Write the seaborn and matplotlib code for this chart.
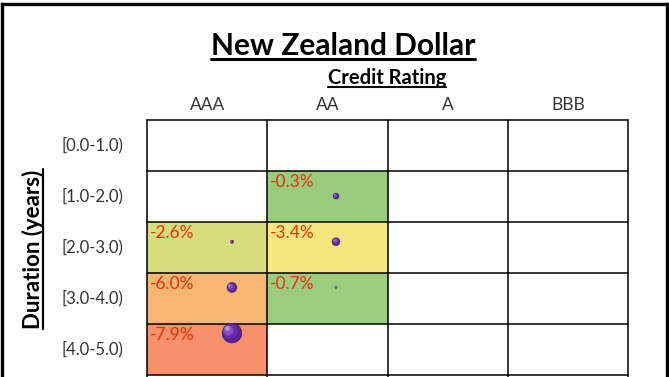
import numpy as np
import pandas as pd
import matplotlib
matplotlib.use('Agg')
import matplotlib.pyplot as plt
import matplotlib.transforms as mtransforms
from matplotlib.colors import LinearSegmentedColormap
from matplotlib.lines import Line2D
import seaborn as sns

# data
ratings = ['AAA', 'AA', 'A', 'BBB']
durations = ['[0.0-1.0)', '[1.0-2.0)', '[2.0-3.0)', '[3.0-4.0)', '[4.0-5.0)']
returns_aaa = [np.nan, np.nan, -2.6, -6.0, -7.9]
returns_aa = [np.nan, -0.3, -3.4, -0.7, np.nan]
returns_a = [np.nan] * 5
returns_bbb = [np.nan] * 5
# bubble size (relative weight of each bucket)
weight_aaa = [np.nan, np.nan, 0.25, 2.5, 10.0]
weight_aa = [np.nan, 0.9, 1.6, 0.1, np.nan]
weight_a = [np.nan] * 5
weight_bbb = [np.nan] * 5

returns = pd.DataFrame({'AAA': returns_aaa, 'AA': returns_aa, 'A': returns_a, 'BBB': returns_bbb},
                       index=durations)
weights = pd.DataFrame({'AAA': weight_aaa, 'AA': weight_aa, 'A': weight_a, 'BBB': weight_bbb},
                       index=durations)

sns.set_style('white')
plt.rcParams['font.family'] = ['Lato', 'DejaVu Sans']

W, H = 669, 377
fig = plt.figure(figsize=(W / 100, H / 100), dpi=100)


def px_rect(l, t, r, b):
    return [l / W, 1 - b / H, (r - l) / W, (b - t) / H]


# excel style red-yellow-green colour scale
cmap = LinearSegmentedColormap.from_list(
    'ryg', [(0.0, '#F78E6C'), (0.56, '#FAE87E'), (0.88, '#9BCD7D'), (1.0, '#98CC7C')])

ax = fig.add_axes(px_rect(147, 120, 628, 377))
sns.heatmap(returns, ax=ax, cmap=cmap, vmin=-8, vmax=0, cbar=False,
            mask=returns.isna(), annot=False)
ax.set_ylim(5.04, 0)
ax.set_xlim(0, 4)

for y in range(6):
    ax.axhline(y, color='black', lw=1.1, clip_on=False)
for x in range(5):
    ax.axvline(x, color='black', lw=1.1, clip_on=False)

# labels in the top-left corner of each cell
for i, row in enumerate(durations):
    for j, col in enumerate(ratings):
        v = returns.loc[row, col]
        if not np.isnan(v):
            ax.text(j + 0.02, i + 0.06, f'{v:.1f}%', color='#E8300E', fontsize=12.5,
                    ha='left', va='top')

ax.xaxis.tick_top()
ax.set_xticks(np.arange(len(ratings)) + 0.5, ratings, fontsize=12.5, color='#333333')
ax.set_yticks(np.arange(len(durations)) + 0.5, durations, rotation=0, fontsize=12,
              color='#333333')
ax.tick_params(axis='x', length=0, pad=5)
ax.tick_params(axis='y', length=0, pad=17)
ax.set_xlabel('')
ax.set_ylabel('')

# bubble overlay (own plot area, like the excel bubble chart)
ax_b = fig.add_axes(px_rect(180, 127.5, 596, 356))
ax_b.set_xlim(-0.5, 3.5)
ax_b.set_ylim(4.5, -0.5)
ax_b.axis('off')
ax_b.patch.set_visible(False)
long = weights.reset_index(names='duration').melt(id_vars='duration', var_name='rating',
                                                   value_name='weight').dropna()
bx = long['rating'].map(ratings.index).to_numpy()
by = long['duration'].map(durations.index).to_numpy()
bs = long['weight'].to_numpy() * 20
ax_b.scatter(bx, by, s=bs, color='#5A2294', edgecolor='#3E1670', linewidth=0.4, zorder=3)
# shading to give the bubbles a sphere look
for x0, y0, s0 in zip(bx, by, bs):
    rad = np.sqrt(s0) / 2
    for k, (shade, frac) in enumerate([('#6A2DAA', 0.55), ('#8450C4', 0.25), ('#B592E0', 0.06)]):
        off = mtransforms.offset_copy(ax_b.transData, fig=fig, x=-0.18 * (k + 1) * rad,
                                      y=0.18 * (k + 1) * rad, units='points')
        ax_b.scatter([x0], [y0], s=s0 * frac, color=shade, linewidth=0, zorder=4 + k,
                     transform=off)

# titles
title = fig.text(343 / W, 1 - 46 / H, 'New Zealand Dollar', fontsize=21.5, fontweight='bold',
                 ha='center', va='center', color='black')
sub = fig.text(387 / W, 1 - 78 / H, 'Credit Rating', fontsize=14.5, fontweight='bold',
               ha='center', va='center', color='black')
ylab = fig.text(33 / W, 1 - 249 / H, 'Duration (years)', fontsize=16, fontweight='bold',
                ha='center', va='center', rotation=90, color='black')

# underline the headings
fig.canvas.draw()
r = fig.canvas.get_renderer()
inv = fig.transFigure.inverted()
for t, lw in [(title, 2.2), (sub, 1.5)]:
    bb = t.get_window_extent(r).transformed(inv)
    fig.add_artist(Line2D([bb.x0, bb.x1], [bb.y0 + 0.002, bb.y0 + 0.002], color='black',
                          lw=lw, transform=fig.transFigure))
bb = ylab.get_window_extent(r).transformed(inv)
fig.add_artist(Line2D([bb.x1 - 0.002, bb.x1 - 0.002], [bb.y0, bb.y1], color='black', lw=1.6,
                      transform=fig.transFigure))

# frame around the whole figure
frame = dict(color='black', lw=2.4, transform=fig.transFigure, solid_capstyle='projecting')
fig.add_artist(Line2D([2 / W, 2 / W], [0, 1 - 3.5 / H], **frame))
fig.add_artist(Line2D([2 / W, 666.5 / W], [1 - 3.5 / H, 1 - 3.5 / H], **frame))
fig.add_artist(Line2D([666.5 / W, 666.5 / W], [0, 1 - 3.5 / H], **frame))

fig.savefig('out.png', dpi=100)
